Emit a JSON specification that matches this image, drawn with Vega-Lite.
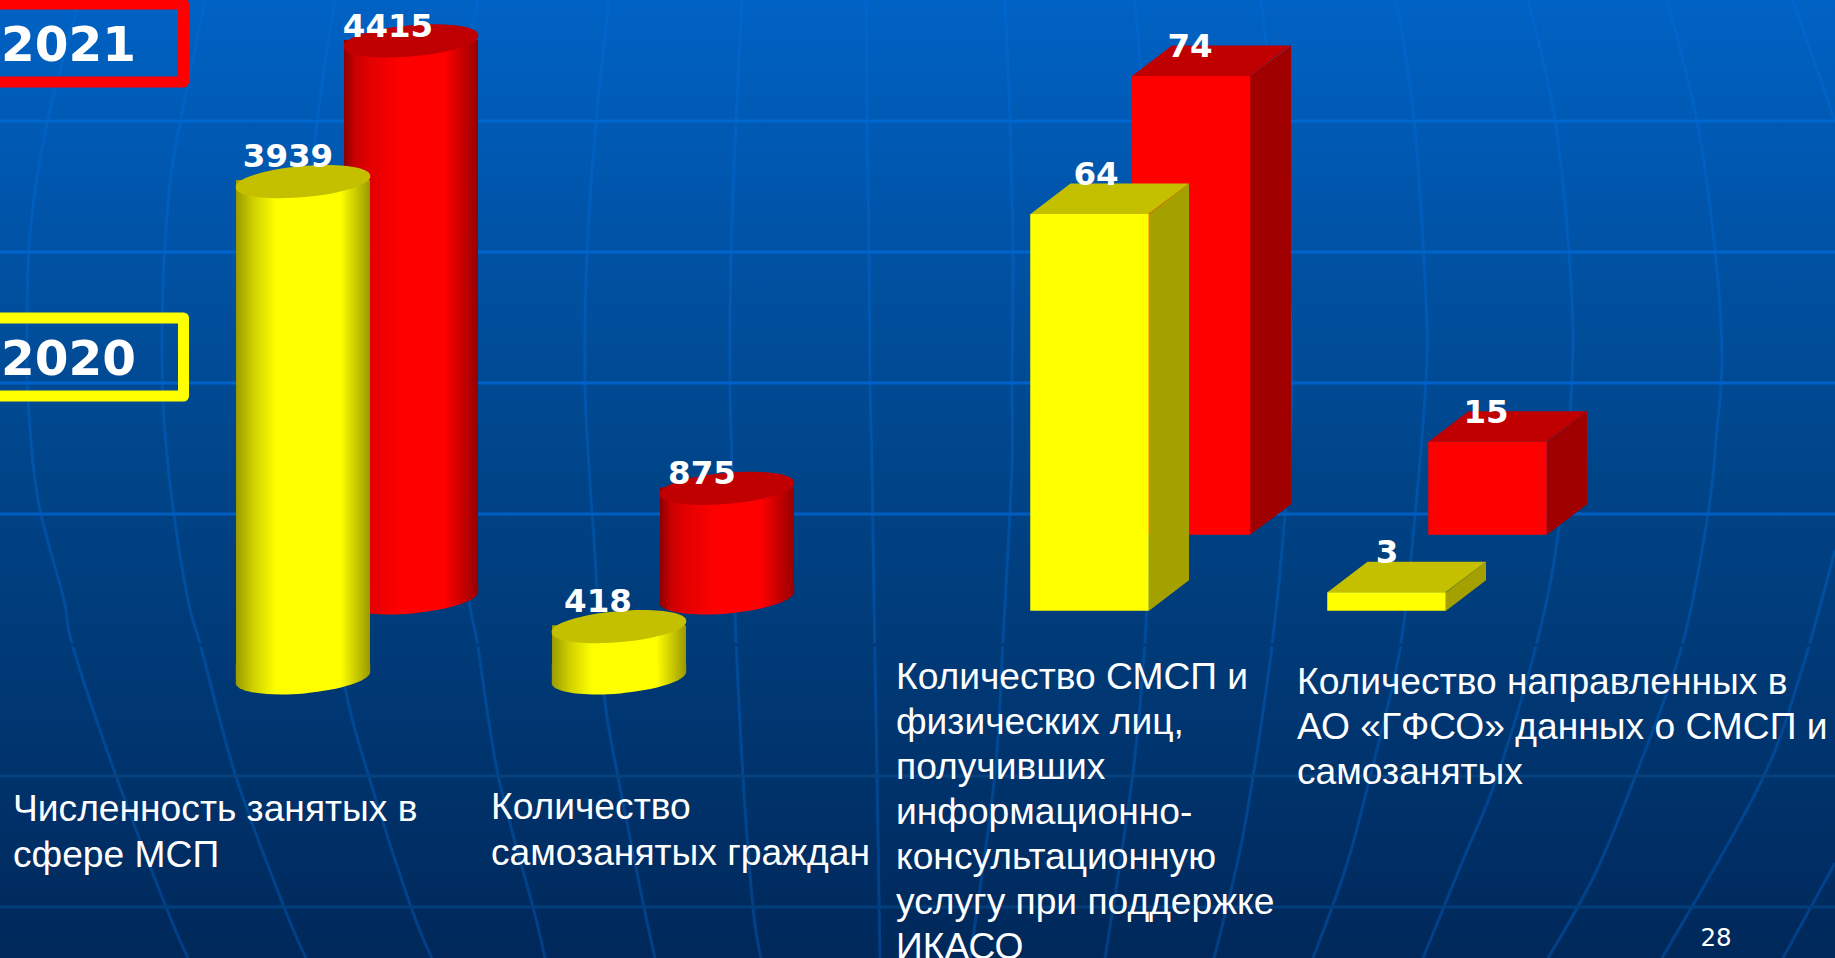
{"$schema":"https://vega.github.io/schema/vega-lite/v6.json","width":1835,"height":958,"padding":0,"autosize":{"type":"none"},"background":"#003a78",
"config":{"view":{"stroke":null,"fill":{"gradient":"linear","x1":0,"y1":0,"x2":0,"y2":1,"stops":[{"offset":0,"color":"#0062c4"},{"offset":0.5,"color":"#004488"},{"offset":1,"color":"#00285a"}]}}},
"resolve":{"scale":{"x":"independent","y":"independent","color":"independent"}},
"datasets":{
"bars":[
{"category":"Численность занятых","series":"2020","form":"cylinder","value":3939},
{"category":"Численность занятых","series":"2021","form":"cylinder","value":4415},
{"category":"Самозанятые","series":"2020","form":"cylinder","value":418},
{"category":"Самозанятые","series":"2021","form":"cylinder","value":875},
{"category":"СМСП и физлица","series":"2020","form":"box","value":64},
{"category":"СМСП и физлица","series":"2021","form":"box","value":74},
{"category":"Данные в ГФСО","series":"2020","form":"box","value":3},
{"category":"Данные в ГФСО","series":"2021","form":"box","value":15}],
"categories":[
{"category":"Численность занятых","text":"Численность занятых в\nсфере МСП"},
{"category":"Самозанятые","text":"Количество\nсамозанятых граждан"},
{"category":"СМСП и физлица","text":"Количество СМСП и\nфизических лиц,\nполучивших\nинформационно-\nконсультационную\nуслугу при поддержке\nИКАСО"},
{"category":"Данные в ГФСО","text":"Количество направленных в\nАО «ГФСО» данных о СМСП и\nсамозанятых"}],
"legend":[{"series":"2021"},{"series":"2020"}],
"page":[{"page":"28"}],
"gridlines":[{"line":"1"},{"line":"2"},{"line":"3"},{"line":"4"},{"line":"5"},{"line":"6"},{"line":"7"}],
"meridians":[
{"m":"a","u":80,"v":0},{"m":"a","u":47,"v":123},{"m":"a","u":30,"v":233},{"m":"a","u":27,"v":333},{"m":"a","u":28,"v":400},{"m":"a","u":38,"v":500},{"m":"a","u":64,"v":600},{"m":"a","u":73,"v":647},{"m":"a","u":115,"v":773},{"m":"a","u":166,"v":907},{"m":"a","u":188,"v":958},
{"m":"b","u":205,"v":0},{"m":"b","u":180,"v":123},{"m":"b","u":170,"v":183},{"m":"b","u":163,"v":287},{"m":"b","u":163,"v":400},{"m":"b","u":172,"v":500},{"m":"b","u":188,"v":600},{"m":"b","u":201,"v":647},{"m":"b","u":236,"v":777},{"m":"b","u":284,"v":907},{"m":"b","u":306,"v":958},
{"m":"c","u":335,"v":0},{"m":"c","u":317,"v":123},{"m":"c","u":305,"v":280},{"m":"c","u":305,"v":400},{"m":"c","u":318,"v":530},{"m":"c","u":345,"v":688},{"m":"c","u":369,"v":777},{"m":"c","u":411,"v":907},{"m":"c","u":432,"v":958},
{"m":"d","u":478,"v":0},{"m":"d","u":455,"v":123},{"m":"d","u":445,"v":253},{"m":"d","u":445,"v":383},{"m":"d","u":450,"v":467},{"m":"d","u":469,"v":600},{"m":"d","u":478,"v":647},{"m":"d","u":498,"v":775},{"m":"d","u":533,"v":907},{"m":"d","u":545,"v":958},
{"m":"e","u":609,"v":0},{"m":"e","u":596,"v":123},{"m":"e","u":587,"v":253},{"m":"e","u":585,"v":383},{"m":"e","u":589,"v":467},{"m":"e","u":594,"v":540},{"m":"e","u":604,"v":693},{"m":"e","u":618,"v":777},{"m":"e","u":644,"v":907},{"m":"e","u":655,"v":958},
{"m":"f","u":742,"v":0},{"m":"f","u":736,"v":122},{"m":"f","u":731,"v":253},{"m":"f","u":730,"v":383},{"m":"f","u":732,"v":467},{"m":"f","u":735,"v":613},{"m":"f","u":743,"v":777},{"m":"f","u":753,"v":907},{"m":"f","u":761,"v":958},
{"m":"g","u":866,"v":0},{"m":"g","u":867,"v":122},{"m":"g","u":869,"v":253},{"m":"g","u":870,"v":383},{"m":"g","u":872,"v":467},{"m":"g","u":874,"v":600},{"m":"g","u":877,"v":777},{"m":"g","u":880,"v":958},
{"m":"h","u":1005,"v":0},{"m":"h","u":1010,"v":122},{"m":"h","u":1013,"v":253},{"m":"h","u":1012,"v":383},{"m":"h","u":1012,"v":467},{"m":"h","u":1003,"v":640},{"m":"h","u":995,"v":773},{"m":"h","u":970,"v":958},
{"m":"i","u":1135,"v":0},{"m":"i","u":1145,"v":122},{"m":"i","u":1153,"v":253},{"m":"i","u":1155,"v":383},{"m":"i","u":1150,"v":520},{"m":"i","u":1145,"v":640},{"m":"i","u":1133,"v":773},{"m":"i","u":1105,"v":958},
{"m":"j","u":1261,"v":0},{"m":"j","u":1275,"v":122},{"m":"j","u":1287,"v":253},{"m":"j","u":1292,"v":383},{"m":"j","u":1285,"v":515},{"m":"j","u":1272,"v":646},{"m":"j","u":1253,"v":777},{"m":"j","u":1238,"v":860},{"m":"j","u":1214,"v":958},
{"m":"k","u":1396,"v":0},{"m":"k","u":1414,"v":120},{"m":"k","u":1426,"v":300},{"m":"k","u":1426,"v":380},{"m":"k","u":1415,"v":515},{"m":"k","u":1400,"v":649},{"m":"k","u":1370,"v":777},{"m":"k","u":1346,"v":867},{"m":"k","u":1313,"v":958},
{"m":"l","u":1528,"v":0},{"m":"l","u":1555,"v":120},{"m":"l","u":1570,"v":268},{"m":"l","u":1572,"v":380},{"m":"l","u":1558,"v":535},{"m":"l","u":1536,"v":646},{"m":"l","u":1497,"v":777},{"m":"l","u":1463,"v":860},{"m":"l","u":1423,"v":958},
{"m":"n","u":1667,"v":0},{"m":"n","u":1697,"v":121},{"m":"n","u":1715,"v":250},{"m":"n","u":1722,"v":357},{"m":"n","u":1717,"v":429},{"m":"n","u":1708,"v":514},{"m":"n","u":1682,"v":646},{"m":"n","u":1635,"v":777},{"m":"n","u":1595,"v":874},{"m":"n","u":1548,"v":958},
{"m":"o","u":1793,"v":0},{"m":"o","u":1835,"v":121},
{"m":"p","u":1835,"v":550},{"m":"p","u":1799,"v":679},{"m":"p","u":1759,"v":786},{"m":"p","u":1662,"v":958},
{"m":"q","u":1835,"v":863},{"m":"q","u":1783,"v":958}]
},
"layer":[
{"data":{"name":"meridians"},"mark":{"type":"line","stroke":"#0070e0","strokeWidth":3,"opacity":0.33,"interpolate":"cardinal","clip":true},
"encoding":{"x":{"field":"u","type":"quantitative","axis":null,"scale":{"domain":[0,1835]}},"y":{"field":"v","type":"quantitative","axis":null,"scale":{"domain":[958,0]}},"detail":{"field":"m"},"order":{"field":"v"}}},
{"data":{"name":"gridlines"},"mark":{"type":"rule","strokeWidth":3},
"encoding":{"y":{"field":"line","type":"nominal","axis":null,"scale":{"type":"point","domain":["1","2","3","4","5","6","7"],"range":[121,907],"padding":0}},"color":{"field":"line","type":"nominal","legend":null,"scale":{"domain":["1","2","3","4","5","6","7"],"range":["#0066d0","#0064cc","#0062c8","#005ec2","#003a78","#06427f","#033e7c"]}}}},

{"data":{"name":"bars"},"transform":[{"filter":"datum.form=='cylinder' && datum.series=='2021'"}],"mark":{"type":"bar","orient":"vertical","width":134,"y2Offset":-10,"fill":{"gradient":"linear","x1":0,"y1":0,"x2":1,"y2":0,"stops":[{"offset":0,"color":"#8c0000"},{"offset":0.08,"color":"#c80000"},{"offset":0.17,"color":"#e00000"},{"offset":0.42,"color":"#ff0000"},{"offset":0.75,"color":"#ff0000"},{"offset":1,"color":"#960000"}]}},
"encoding":{"x":{"field":"category","type":"nominal","axis":null,"scale":{"type":"point","domain":["Численность занятых","Самозанятые"],"range":[411,727],"padding":0}},"y":{"field":"value","type":"quantitative","axis":null,"stack":null,"scale":{"domain":[-2848,4731]}},"y2":{"datum":0}}},
{"data":{"name":"bars"},"transform":[{"filter":"datum.form=='cylinder' && datum.series=='2021'"}],"mark":{"type":"point","shape":"M-67.2,-14 L67.2,-14 L67.2,-5.9 A67.5,16,-5,0,1,-67.2,5.9 Z","size":4,"filled":true,"opacity":1,"strokeWidth":0,"fill":{"gradient":"linear","x1":0,"y1":0,"x2":1,"y2":0,"stops":[{"offset":0,"color":"#8c0000"},{"offset":0.08,"color":"#c80000"},{"offset":0.17,"color":"#e00000"},{"offset":0.42,"color":"#ff0000"},{"offset":0.75,"color":"#ff0000"},{"offset":1,"color":"#960000"}]}},
"encoding":{"x":{"field":"category","type":"nominal","axis":null,"scale":{"type":"point","domain":["Численность занятых","Самозанятые"],"range":[411,727],"padding":0}},"y":{"datum":0,"axis":null,"scale":{"domain":[-2848,4731]}}}},
{"data":{"name":"bars"},"transform":[{"filter":"datum.form=='cylinder' && datum.series=='2021'"}],"mark":{"type":"point","shape":"M-67.2,5.9 A67.5,15,-5,1,1,67.2,-5.9 A67.5,15,-5,1,1,-67.2,5.9 Z","size":4,"filled":true,"opacity":1,"strokeWidth":0,"yOffset":1,"fill":"#c00000"},
"encoding":{"x":{"field":"category","type":"nominal","axis":null,"scale":{"type":"point","domain":["Численность занятых","Самозанятые"],"range":[411,727],"padding":0}},"y":{"field":"value","type":"quantitative","axis":null,"stack":null,"scale":{"domain":[-2848,4731]}}}},

{"data":{"name":"bars"},"transform":[{"filter":"datum.form=='cylinder' && datum.series=='2020'"}],"mark":{"type":"bar","orient":"vertical","width":134,"yOffset":80,"y2Offset":70,"fill":{"gradient":"linear","x1":0,"y1":0,"x2":1,"y2":0,"stops":[{"offset":0,"color":"#9a9a00"},{"offset":0.13,"color":"#d0d000"},{"offset":0.3,"color":"#ffff00"},{"offset":0.78,"color":"#ffff00"},{"offset":1,"color":"#999900"}]}},
"encoding":{"x":{"field":"category","type":"nominal","axis":null,"scale":{"type":"point","domain":["Численность занятых","Самозанятые"],"range":[303,619],"padding":0}},"y":{"field":"value","type":"quantitative","axis":null,"stack":null,"scale":{"domain":[-2848,4731]}},"y2":{"datum":0}}},
{"data":{"name":"bars"},"transform":[{"filter":"datum.form=='cylinder' && datum.series=='2020'"}],"mark":{"type":"point","shape":"M-67.2,-14 L67.2,-14 L67.2,-5.9 A67.5,16,-5,0,1,-67.2,5.9 Z","size":4,"filled":true,"opacity":1,"strokeWidth":0,"yOffset":80,"fill":{"gradient":"linear","x1":0,"y1":0,"x2":1,"y2":0,"stops":[{"offset":0,"color":"#9a9a00"},{"offset":0.13,"color":"#d0d000"},{"offset":0.3,"color":"#ffff00"},{"offset":0.78,"color":"#ffff00"},{"offset":1,"color":"#999900"}]}},
"encoding":{"x":{"field":"category","type":"nominal","axis":null,"scale":{"type":"point","domain":["Численность занятых","Самозанятые"],"range":[303,619],"padding":0}},"y":{"datum":0,"axis":null,"scale":{"domain":[-2848,4731]}}}},
{"data":{"name":"bars"},"transform":[{"filter":"datum.form=='cylinder' && datum.series=='2020'"}],"mark":{"type":"point","shape":"M-67.2,5.9 A67.5,15,-5,1,1,67.2,-5.9 A67.5,15,-5,1,1,-67.2,5.9 Z","size":4,"filled":true,"opacity":1,"strokeWidth":0,"yOffset":81.5,"fill":"#c4c000"},
"encoding":{"x":{"field":"category","type":"nominal","axis":null,"scale":{"type":"point","domain":["Численность занятых","Самозанятые"],"range":[303,619],"padding":0}},"y":{"field":"value","type":"quantitative","axis":null,"stack":null,"scale":{"domain":[-2848,4731]}}}},

{"data":{"name":"bars"},"transform":[{"filter":"datum.category=='СМСП и физлица' && datum.series=='2021'"},{"calculate":"[0,1]","as":"edge"},{"flatten":["edge"]},{"calculate":"datum.value+datum.edge*4.92","as":"upper"},{"calculate":"datum.edge*4.92","as":"lower"}],"mark":{"type":"area","orient":"vertical","fill":"#a00000"},
"encoding":{"x":{"field":"edge","type":"quantitative","axis":null,"scale":{"domain":[0,1],"range":[1250,1291]}},"y":{"field":"upper","type":"quantitative","axis":null,"stack":null,"scale":{"domain":[-68.24,86.26]}},"y2":{"field":"lower"}}},
{"data":{"name":"bars"},"transform":[{"filter":"datum.category=='Данные в ГФСО' && datum.series=='2021'"},{"calculate":"[0,1]","as":"edge"},{"flatten":["edge"]},{"calculate":"datum.value+datum.edge*4.92","as":"upper"},{"calculate":"datum.edge*4.92","as":"lower"}],"mark":{"type":"area","orient":"vertical","fill":"#a00000"},
"encoding":{"x":{"field":"edge","type":"quantitative","axis":null,"scale":{"domain":[0,1],"range":[1547,1587]}},"y":{"field":"upper","type":"quantitative","axis":null,"stack":null,"scale":{"domain":[-68.24,86.26]}},"y2":{"field":"lower"}}},
{"data":{"name":"bars"},"transform":[{"filter":"datum.form=='box' && datum.series=='2021'"}],"mark":{"type":"point","shape":"M-59,0 L59,0 L99.5,-30.5 L-19,-30.5 Z","size":4,"filled":true,"opacity":1,"strokeWidth":0,"fill":"#c00000"},
"encoding":{"x":{"field":"category","type":"nominal","axis":null,"scale":{"type":"point","domain":["СМСП и физлица","Данные в ГФСО"],"range":[1191,1487.5],"padding":0}},"y":{"field":"value","type":"quantitative","axis":null,"stack":null,"scale":{"domain":[-68.24,86.26]}}}},
{"data":{"name":"bars"},"transform":[{"filter":"datum.form=='box' && datum.series=='2021'"}],"mark":{"type":"bar","orient":"vertical","width":118.5,"fill":"#ff0000"},
"encoding":{"x":{"field":"category","type":"nominal","axis":null,"scale":{"type":"point","domain":["СМСП и физлица","Данные в ГФСО"],"range":[1191,1487.5],"padding":0}},"y":{"field":"value","type":"quantitative","axis":null,"stack":null,"scale":{"domain":[-68.24,86.26]}},"y2":{"datum":0}}},

{"data":{"name":"bars"},"transform":[{"filter":"datum.category=='СМСП и физлица' && datum.series=='2020'"},{"calculate":"[0,1]","as":"edge"},{"flatten":["edge"]},{"calculate":"datum.value+datum.edge*4.92","as":"upper"},{"calculate":"datum.edge*4.92","as":"lower"}],"mark":{"type":"area","orient":"vertical","fill":"#a4a000","yOffset":76,"y2Offset":76},
"encoding":{"x":{"field":"edge","type":"quantitative","axis":null,"scale":{"domain":[0,1],"range":[1149,1189]}},"y":{"field":"upper","type":"quantitative","axis":null,"stack":null,"scale":{"domain":[-68.24,86.26]}},"y2":{"field":"lower"}}},
{"data":{"name":"bars"},"transform":[{"filter":"datum.category=='Данные в ГФСО' && datum.series=='2020'"},{"calculate":"[0,1]","as":"edge"},{"flatten":["edge"]},{"calculate":"datum.value+datum.edge*4.92","as":"upper"},{"calculate":"datum.edge*4.92","as":"lower"}],"mark":{"type":"area","orient":"vertical","fill":"#a4a000","yOffset":76,"y2Offset":76},
"encoding":{"x":{"field":"edge","type":"quantitative","axis":null,"scale":{"domain":[0,1],"range":[1446,1486]}},"y":{"field":"upper","type":"quantitative","axis":null,"stack":null,"scale":{"domain":[-68.24,86.26]}},"y2":{"field":"lower"}}},
{"data":{"name":"bars"},"transform":[{"filter":"datum.form=='box' && datum.series=='2020'"}],"mark":{"type":"point","shape":"M-59,0 L59,0 L99.5,-30.5 L-19,-30.5 Z","size":4,"filled":true,"opacity":1,"strokeWidth":0,"yOffset":76,"fill":"#c4c000"},
"encoding":{"x":{"field":"category","type":"nominal","axis":null,"scale":{"type":"point","domain":["СМСП и физлица","Данные в ГФСО"],"range":[1089.5,1386.5],"padding":0}},"y":{"field":"value","type":"quantitative","axis":null,"stack":null,"scale":{"domain":[-68.24,86.26]}}}},
{"data":{"name":"bars"},"transform":[{"filter":"datum.form=='box' && datum.series=='2020'"}],"mark":{"type":"bar","orient":"vertical","width":118.5,"yOffset":76,"y2Offset":76,"fill":"#ffff00"},
"encoding":{"x":{"field":"category","type":"nominal","axis":null,"scale":{"type":"point","domain":["СМСП и физлица","Данные в ГФСО"],"range":[1089.5,1386.5],"padding":0}},"y":{"field":"value","type":"quantitative","axis":null,"stack":null,"scale":{"domain":[-68.24,86.26]}},"y2":{"datum":0}}},

{"data":{"name":"bars"},"transform":[{"filter":"datum.form=='cylinder' && datum.series=='2021'"}],"mark":{"type":"text","font":"DejaVu Sans","fontWeight":"bold","fontSize":32.5,"fill":"#ffffff","baseline":"alphabetic","dy":-3},
"encoding":{"x":{"field":"category","type":"nominal","axis":null,"scale":{"type":"point","domain":["Численность занятых","Самозанятые"],"range":[388,702],"padding":0}},"y":{"field":"value","type":"quantitative","axis":null,"stack":null,"scale":{"domain":[-2848,4731]}},"text":{"field":"value"}}},
{"data":{"name":"bars"},"transform":[{"filter":"datum.form=='cylinder' && datum.series=='2020'"}],"mark":{"type":"text","font":"DejaVu Sans","fontWeight":"bold","fontSize":32.5,"fill":"#ffffff","baseline":"alphabetic","dy":66.5},
"encoding":{"x":{"field":"category","type":"nominal","axis":null,"scale":{"type":"point","domain":["Численность занятых","Самозанятые"],"range":[288,598],"padding":0}},"y":{"field":"value","type":"quantitative","axis":null,"stack":null,"scale":{"domain":[-2848,4731]}},"text":{"field":"value"}}},
{"data":{"name":"bars"},"transform":[{"filter":"datum.form=='box' && datum.series=='2021'"}],"mark":{"type":"text","font":"DejaVu Sans","fontWeight":"bold","fontSize":32.5,"fill":"#ffffff","baseline":"alphabetic","dy":-19},
"encoding":{"x":{"field":"category","type":"nominal","axis":null,"scale":{"type":"point","domain":["СМСП и физлица","Данные в ГФСО"],"range":[1190,1486],"padding":0}},"y":{"field":"value","type":"quantitative","axis":null,"stack":null,"scale":{"domain":[-68.24,86.26]}},"text":{"field":"value"}}},
{"data":{"name":"bars"},"transform":[{"filter":"datum.form=='box' && datum.series=='2020'"}],"mark":{"type":"text","font":"DejaVu Sans","fontWeight":"bold","fontSize":32.5,"fill":"#ffffff","baseline":"alphabetic","dy":47},
"encoding":{"x":{"field":"category","type":"nominal","axis":null,"scale":{"type":"point","domain":["СМСП и физлица","Данные в ГФСО"],"range":[1096,1387],"padding":0}},"y":{"field":"value","type":"quantitative","axis":null,"stack":null,"scale":{"domain":[-68.24,86.26]}},"text":{"field":"value"}}},

{"data":{"name":"categories"},"transform":[{"filter":"datum.category=='Численность занятых' || datum.category=='Самозанятые'"}],"mark":{"type":"text","font":"Liberation Sans","fontSize":37.2,"fill":"#ffffff","align":"left","baseline":"alphabetic","lineBreak":"\n","lineHeight":45.5},
"encoding":{"x":{"field":"category","type":"nominal","axis":null,"scale":{"type":"point","domain":["Численность занятых","Самозанятые"],"range":[13,491],"padding":0}},"y":{"field":"category","type":"nominal","axis":null,"scale":{"type":"point","domain":["Численность занятых","Самозанятые"],"range":[821,819],"padding":0}},"text":{"field":"text"}}},
{"data":{"name":"categories"},"transform":[{"filter":"datum.category=='СМСП и физлица' || datum.category=='Данные в ГФСО'"}],"mark":{"type":"text","font":"Liberation Sans","fontSize":37.2,"fill":"#ffffff","align":"left","baseline":"alphabetic","lineBreak":"\n","lineHeight":45},
"encoding":{"x":{"field":"category","type":"nominal","axis":null,"scale":{"type":"point","domain":["СМСП и физлица","Данные в ГФСО"],"range":[896,1297],"padding":0}},"y":{"field":"category","type":"nominal","axis":null,"scale":{"type":"point","domain":["СМСП и физлица","Данные в ГФСО"],"range":[689,694],"padding":0}},"text":{"field":"text"}}},

{"data":{"name":"legend"},"mark":{"type":"point","shape":"M-110,-39 L95.5,-39 L95.5,39 L-110,39 Z","size":4,"filled":false,"opacity":1,"strokeWidth":11,"strokeJoin":"round"},
"encoding":{"x":{"field":"series","type":"nominal","axis":null,"scale":{"type":"point","domain":["2021","2020"],"range":[88,88],"padding":0}},"y":{"field":"series","type":"nominal","axis":null,"scale":{"type":"point","domain":["2021","2020"],"range":[43,357],"padding":0}},"stroke":{"field":"series","type":"nominal","legend":null,"scale":{"domain":["2021","2020"],"range":["#ff0000","#ffff00"]}}}},
{"data":{"name":"legend"},"mark":{"type":"text","font":"DejaVu Sans","fontWeight":"bold","fontSize":48.5,"fill":"#ffffff","align":"left","baseline":"alphabetic"},
"encoding":{"x":{"field":"series","type":"nominal","axis":null,"scale":{"type":"point","domain":["2021","2020"],"range":[1,1],"padding":0}},"y":{"field":"series","type":"nominal","axis":null,"scale":{"type":"point","domain":["2021","2020"],"range":[61,375],"padding":0}},"text":{"field":"series"}}},
{"data":{"name":"page"},"mark":{"type":"text","font":"DejaVu Sans","fontSize":24.5,"fill":"#ffffff","align":"center","baseline":"alphabetic"},
"encoding":{"x":{"field":"page","type":"nominal","axis":null,"scale":{"type":"point","domain":["28"],"range":[1716,1716],"padding":0}},"y":{"field":"page","type":"nominal","axis":null,"scale":{"type":"point","domain":["28"],"range":[946,946],"padding":0}},"text":{"field":"page"}}}
]}
